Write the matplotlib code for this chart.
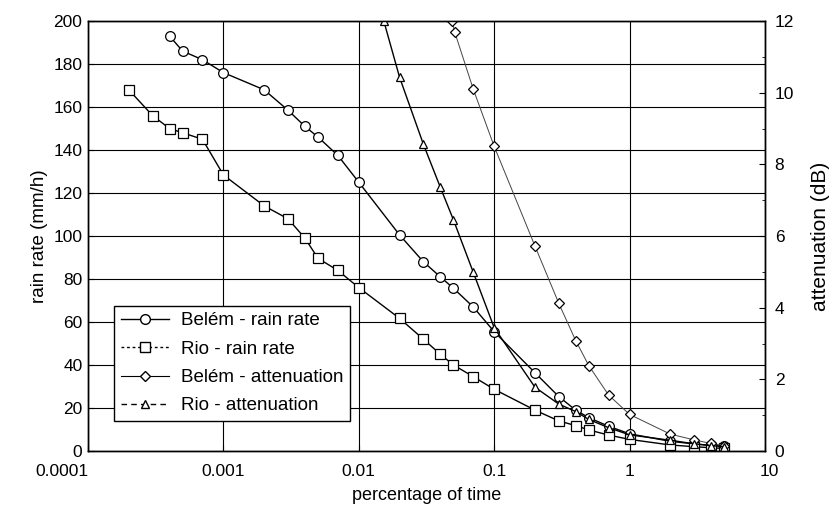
import matplotlib
matplotlib.use("Agg")
import matplotlib.pyplot as plt
from matplotlib.lines import Line2D
from matplotlib.transforms import ScaledTranslation
from matplotlib.ticker import FixedLocator, FixedFormatter, MultipleLocator, NullLocator

plt.rcParams['font.family'] = ['Liberation Sans', 'DejaVu Sans']

# Belém rain rate (mm/h)
belem_rain_p = [0.0004, 0.0005, 0.0007, 0.001, 0.002, 0.003, 0.004, 0.005, 0.007, 0.01,
                0.02, 0.03, 0.04, 0.05, 0.07, 0.1, 0.2, 0.3, 0.4, 0.5, 0.7, 1, 2, 3, 4, 5]
belem_rain = [193, 186, 182, 176, 168, 158.5, 151, 146, 137.5, 125,
              100.5, 88, 81, 75.7, 67, 55.5, 36.4, 25.3, 19, 15.5, 11.5, 8, 4.5, 3.3, 2.6, 2.2]

# Rio rain rate (mm/h)
rio_rain_p = [0.0002, 0.0003, 0.0004, 0.0005, 0.0007, 0.001, 0.002, 0.003, 0.004, 0.005, 0.007,
              0.01, 0.02, 0.03, 0.04, 0.05, 0.07, 0.1, 0.2, 0.3, 0.4, 0.5, 0.7, 1, 2, 3, 4, 5]
rio_rain = [168, 156, 150, 148, 145, 128.4, 114, 108, 99, 89.6, 84,
            76, 61.7, 52, 45, 40, 34.6, 28.7, 19, 14, 11.8, 9.8, 7.4, 5.4, 2.8, 2.0, 1.5, 1.2]

# Belém attenuation (dB)
belem_att_p = [0.049, 0.051, 0.07, 0.1, 0.2, 0.3, 0.4, 0.5, 0.7, 1, 2, 3, 4, 5]
belem_att = [12.0, 11.7, 10.1, 8.5, 5.72, 4.12, 3.08, 2.38, 1.56, 1.02, 0.47, 0.31, 0.21, 0.15]

# Rio attenuation (dB)
rio_att_p = [0.0153, 0.02, 0.03, 0.04, 0.05, 0.07, 0.1, 0.2, 0.3, 0.4, 0.5, 0.7, 1, 2, 3, 4, 5]
rio_att = [12.0, 10.43, 8.56, 7.36, 6.45, 4.99, 3.44, 1.78, 1.31, 1.10, 0.88, 0.65, 0.45, 0.3, 0.2, 0.15, 0.12]

x_ticks = [0.0001, 0.001, 0.01, 0.1, 1, 10]
x_tick_labels = ["0.0001", "0.001", "0.01", "0.1", "1", "10"]

fig = plt.figure(figsize=(8.32, 5.15), dpi=100)
ax = fig.add_axes([88/832, 1-451/515, (765-88)/832, (451-21)/515])
ax2 = ax.twinx()

ax.set_xscale('log')
ax.set_xlim(0.0001, 10)
ax.set_ylim(0, 200)
ax2.set_ylim(0, 12)

ax.xaxis.set_major_locator(FixedLocator(x_ticks))
ax.xaxis.set_major_formatter(FixedFormatter(x_tick_labels))
ax.xaxis.set_minor_locator(NullLocator())
ax.yaxis.set_major_locator(MultipleLocator(20))
ax2.yaxis.set_major_locator(MultipleLocator(2))
ax2.yaxis.set_minor_locator(MultipleLocator(1))

ax.grid(True, which='major', color='black', linewidth=0.8)
ax.set_axisbelow(True)

for a in (ax, ax2):
    a.tick_params(direction='in', labelsize=12.5, length=4, width=0.8)
    for s in a.spines.values():
        s.set_linewidth(1.0)
ax2.tick_params(which='minor', direction='in', length=2)
ax.tick_params(axis='x', pad=9)
ax.tick_params(axis='y', pad=4)
ax2.tick_params(axis='y', pad=7)

lc, = ax.plot(belem_rain_p, belem_rain, color='black', lw=1.0, marker='o', ms=7,
              mfc='white', mec='black', mew=0.9)
ls, = ax.plot(rio_rain_p, rio_rain, color='black', lw=1.0, marker='s', ms=7,
              mfc='white', mec='black', mew=0.9)
ld, = ax2.plot(belem_att_p, belem_att, color='#444444', lw=0.7, marker='D', ms=5,
               mfc='white', mec='black', mew=0.9)
lt, = ax2.plot(rio_att_p, rio_att, color='black', lw=1.0, marker='^', ms=6,
               mfc='white', mec='black', mew=0.9)

ax.set_xlabel("percentage of time", fontsize=13, labelpad=6)
ax.set_ylabel("rain rate (mm/h)", fontsize=13.5, labelpad=4)
ax2.set_ylabel("attenuation (dB)", fontsize=15, labelpad=12)

handles = [
    Line2D([], [], color='black', lw=1.0, marker='o', ms=7, mfc='white', mec='black'),
    Line2D([], [], color='black', lw=1.0, ls=(0, (2, 2)), marker='s', ms=7, mfc='white', mec='black'),
    Line2D([], [], color='black', lw=0.8, marker='D', ms=5, mfc='white', mec='black'),
    Line2D([], [], color='black', lw=1.0, ls=(0, (4, 3)), marker='^', ms=6, mfc='white', mec='black'),
]
labels = ["Belém - rain rate", "Rio - rain rate", "Belém - attenuation", "Rio - attenuation"]
leg = ax2.legend(handles, labels, loc='lower left',
                 bbox_to_anchor=(114/832, 1-421/515), bbox_transform=fig.transFigure,
                 fontsize=13.5, frameon=True, fancybox=False, edgecolor='black',
                 framealpha=1, handlelength=2.6, labelspacing=0.6, borderpad=0.35,
                 handletextpad=0.6, borderaxespad=0)
leg.get_frame().set_linewidth(1.0)

fig.canvas.draw()
xt = ax.xaxis.get_major_ticks()
first = xt[0].label1
first.set_horizontalalignment('right')
first.set_transform(first.get_transform() + ScaledTranslation(0.0, 0, fig.dpi_scale_trans))
last = xt[-1].label1
last.set_transform(last.get_transform() + ScaledTranslation(0.04, 0, fig.dpi_scale_trans))

fig.savefig("out.png", dpi=100)
